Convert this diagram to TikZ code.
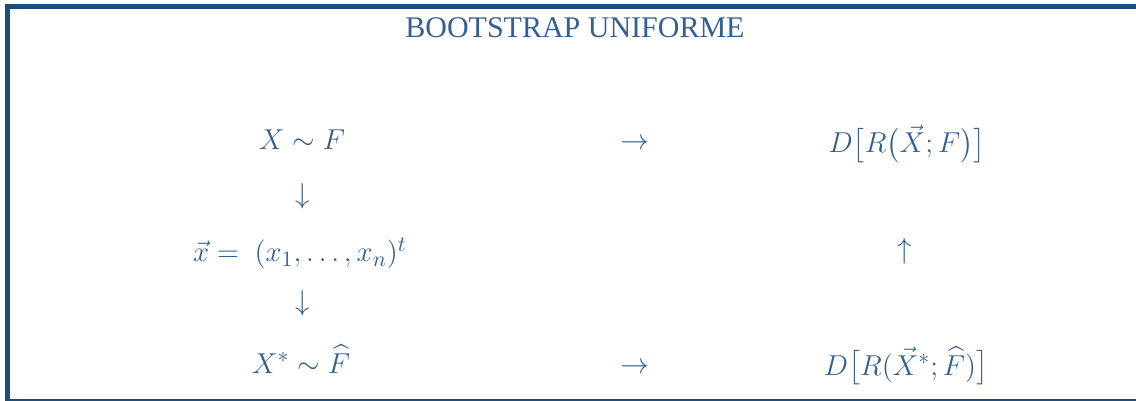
\documentclass[tikz,border=0pt]{standalone}
\usepackage{amsmath}
\usepackage{fontspec}
\setmainfont{Liberation Serif}
\definecolor{framecol}{RGB}{31,78,121}
\definecolor{txtcol}{RGB}{54,95,145}

\begin{document}
\begin{tikzpicture}[x = 0.5pt, y = -0.5pt,
    txt/.style = {text = txtcol, inner sep = 0pt, font = \fontsize{15}{18}\selectfont},
    rule/.style = {draw = framecol}]
            \useasboundingbox (0,0) rectangle (1136,401);
            
            % frame
            \draw [rule, line width = 2.5pt] (7.5,401) -- (7.5,6.5) -- (1136,6.5);
            \draw [rule, line width = 1pt] (5,400) -- (1136,400);
            
            \node[txt, anchor = base] (title) at (575,38) {BOOTSTRAP UNIFORME};
            
            \node[txt, anchor = base] (XF) at (302,150) {$X \sim F$};
            \node[txt, anchor = base] (toA) at (635,150) {$\rightarrow$};
            \node[txt, anchor = base] (DR) at (907,153)
            {$D\bigl[R\bigl(\vec{X};F\bigr)\bigr]$};
            
            \node[txt] (downA) at (303,196) {$\downarrow$};
            
            \node[txt, anchor = base] (sample) at (300,262)
            {$\vec{x} =\ (x_1,\ldots,x_n)^t$};
            \node[txt] (up) at (905,251) {$\uparrow$};
            
            \node[txt] (downB) at (303,303) {$\downarrow$};
            
            \node[txt, anchor = base] (XsF) at (301,373) {$X^* \sim \widehat{F}$};
            \node[txt, anchor = base] (toB) at (635,373) {$\rightarrow$};
            \node[txt, anchor = base] (DRs) at (906,375)
            {$D\bigl[R(\vec{X}^*;\widehat{F})\bigr]$};
    \end{tikzpicture}
\end{document}
